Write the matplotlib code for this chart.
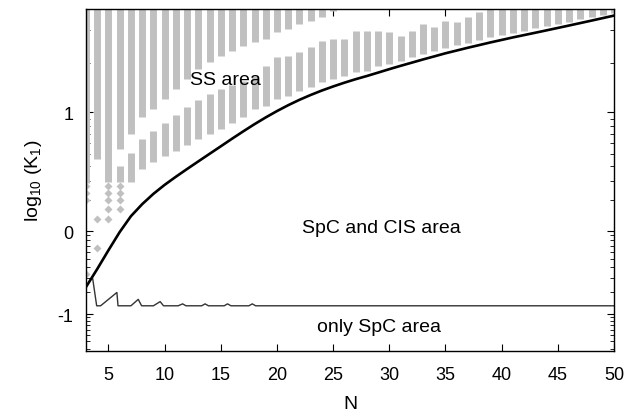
import matplotlib
matplotlib.use("Agg")
import matplotlib.pyplot as plt
import numpy as np

# boundary curve log10(K1) vs N
curve_n = np.arange(3, 51)
curve_v = [-0.64, -0.42, -0.205, -0.01, 0.15, 0.265, 0.36, 0.44, 0.51, 0.575,
           0.637, 0.697, 0.755, 0.812, 0.866, 0.917, 0.964, 1.007, 1.046, 1.081,
           1.112, 1.14, 1.165, 1.188, 1.209, 1.228, 1.248, 1.268, 1.287, 1.305,
           1.323, 1.34, 1.357, 1.372, 1.387, 1.401, 1.415, 1.428, 1.441, 1.453,
           1.465, 1.477, 1.489, 1.501, 1.513, 1.525, 1.537, 1.549]

# lower limit of the SpC and CIS area
jag_n = [3.6, 3.95, 4.3, 5.75, 5.85, 7.0, 7.65, 7.95, 9.0, 9.6, 9.9, 11.2, 11.6,
         11.9, 13.3, 13.6, 13.9, 15.3, 15.6, 15.9, 17.5, 17.8, 18.1, 50]
jag_v = [-0.54, -0.886, -0.886, -0.71, -0.886, -0.886, -0.80, -0.886, -0.886,
         -0.83, -0.886, -0.886, -0.86, -0.886, -0.886, -0.86, -0.886, -0.886,
         -0.86, -0.886, -0.886, -0.86, -0.886, -0.886]

# upper SS band, N = 3..25 (from the top down to these values)
upper_n = np.arange(3, 26)
upper_bot = [0.46, 0.655, 0.464, 0.734, 0.85, 0.966, 1.020, 1.086, 1.149,
             1.209, 1.268, 1.308, 1.341, 1.369, 1.396, 1.416, 1.432, 1.468,
             1.483, 1.508, 1.522, 1.542, 1.570]

# lower SS band, N = 6..50
lower_n = np.arange(6, 51)
lower_bot = [0.464, 0.464, 0.574, 0.631, 0.679, 0.718, 0.764, 0.809, 0.846,
             0.882, 0.924, 0.966, 1.020, 1.040, 1.086, 1.105, 1.136, 1.161,
             1.192, 1.209, 1.227, 1.251, 1.257, 1.285, 1.298, 1.317, 1.335,
             1.352, 1.369, 1.386, 1.40, 1.414, 1.428, 1.441, 1.453, 1.465,
             1.476, 1.487, 1.498, 1.509, 1.52, 1.531, 1.542, 1.553, 1.563]
lower_top = [0.60, 0.70, 0.809, 0.868, 0.924, 0.980, 1.033, 1.079, 1.117,
             1.149, 1.173, 1.198, 1.227, 1.285, 1.336, 1.341, 1.363, 1.390,
             1.422, 1.432, 1.432, 1.473, 1.473, 1.473, 1.468, 1.448, 1.473,
             1.508, 1.493, 1.522, 1.518, 1.542, 1.565] + [1.6] * 12

# isolated SS points
sparse_n = [3, 3, 3, 3, 4, 4, 5, 5, 5, 5, 5, 6, 6, 6, 6]
sparse_v = [0.426, 0.368, 0.301, -0.477, 0.125, -0.176, 0.426, 0.368, 0.301,
            0.222, 0.125, 0.426, 0.368, 0.301, 0.222]

C = 2.87
V_TOP = 1.6


def fwd(v):
    return -np.log(np.clip(C - np.asarray(v, dtype=float), 1e-6, None))


def inv(u):
    return C - np.exp(-np.asarray(u, dtype=float))


plt.rcParams["font.family"] = ["Liberation Sans", "DejaVu Sans"]
plt.rcParams["font.size"] = 13
plt.rcParams["mathtext.default"] = "regular"
plt.rcParams["axes.unicode_minus"] = False

fig = plt.figure(figsize=(6.28, 4.14), dpi=100)
ax = fig.add_axes([86 / 628, 62 / 414, 528 / 628, 342 / 414])
ax.set_yscale("function", functions=(fwd, inv))

gray = "#c0c0c0"
bar_lw = 5
ax.vlines(upper_n, upper_bot, V_TOP, color=gray, lw=bar_lw)
ax.vlines(lower_n, lower_bot, lower_top, color=gray, lw=bar_lw)
ax.plot(sparse_n, sparse_v, "D", color=gray, ms=4.5, mec="none")

ax.plot(jag_n, jag_v, color="#333333", lw=1.0)
ax.plot(curve_n, curve_v, color="black", lw=1.9)

ax.text(15.4, 1.21, "SS area", ha="center", va="center", fontsize=14)
ax.text(29.3, 0.04, "SpC and CIS area", ha="center", va="center", fontsize=14)
ax.text(29.1, -1.17, "only SpC area", ha="center", va="center", fontsize=14)

ax.set_xlim(3, 50)
ax.set_ylim(-1.55, 1.58)
ax.set_xticks(np.arange(5, 51, 5))
ax.set_yticks([-1, 0, 1])
ax.set_yticklabels(["-1", "0", "1"])
minor = [np.log10(k * 10.0 ** d) for d in (-2, -1, 0, 1) for k in range(2, 10)]
ax.set_yticks([m for m in minor if -1.55 < m < 1.58], minor=True)

ax.tick_params(direction="in", top=True, right=True, length=5, width=0.8)
ax.tick_params(axis="x", pad=11)
ax.tick_params(axis="y", pad=9)
ax.tick_params(which="minor", direction="in", left=True, right=True,
               length=3, width=0.6)
for s in ax.spines.values():
    s.set_linewidth(1.0)

ax.set_xlabel("N", fontsize=14)
ax.set_ylabel("log$_{10}$ (K$_1$)", fontsize=14)
ax.xaxis.set_label_coords(0.5, -0.13)
ax.yaxis.set_label_coords(-0.08, 0.5)

fig.savefig("out.png", dpi=100)
